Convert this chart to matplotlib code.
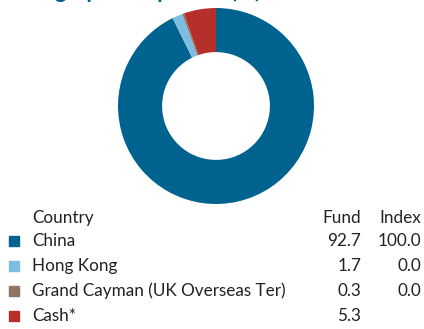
import matplotlib
matplotlib.use("Agg")
import matplotlib.pyplot as plt
from matplotlib.patches import Rectangle

# Country breakdown (%)
countries = ["China", "Hong Kong", "Grand Cayman (UK Overseas Ter)", "Cash*"]
fund = [92.7, 1.7, 0.3, 5.3]
index = ["100.0", "0.0", "0.0", ""]
colors = ["#00628F", "#7DBDE1", "#8F7563", "#B52F2B"]

W, H = 424, 329
fig = plt.figure(figsize=(W / 100, H / 100), dpi=100)
plt.rcParams["font.family"] = ["Lato", "DejaVu Sans"]


def fx(x):
    return x / W


def fy(y):
    return 1 - y / H


# donut
cx, cy, r = 216, 106, 98
ax = fig.add_axes([fx(cx - r), fy(cy + r), 2 * r / W, 2 * r / H])
ax.pie(fund, colors=colors, startangle=90, counterclock=False,
       radius=1, wedgeprops=dict(width=0.45, linewidth=0))
ax.set_xlim(-1, 1)
ax.set_ylim(-1, 1)
ax.set_aspect("equal")
ax.axis("off")

# heading sits above the top edge, only its descenders show
fig.text(fx(14), fy(-2.5), "Geographic exposure (%)", color="#00628F",
         fontsize=16, fontweight="bold", va="baseline", ha="left")

# table
txt = dict(fontsize=12.3, color="#222222", va="center")
rows_y = [241, 266, 291, 316]
fig.text(fx(32), fy(218), "Country", ha="left", **txt)
fig.text(fx(361), fy(218), "Fund", ha="right", **txt)
fig.text(fx(421), fy(218), "Index", ha="right", **txt)
for name, f, idx, c, y in zip(countries, fund, index, colors, rows_y):
    fig.patches.append(Rectangle((fx(9), fy(y + 5)), 10 / W, 10 / H,
                                 transform=fig.transFigure, color=c))
    fig.text(fx(32), fy(y), name, ha="left", **txt)
    fig.text(fx(361), fy(y), f"{f:.1f}", ha="right", **txt)
    if idx:
        fig.text(fx(421), fy(y), idx, ha="right", **txt)

fig.savefig("out.png", dpi=100)
